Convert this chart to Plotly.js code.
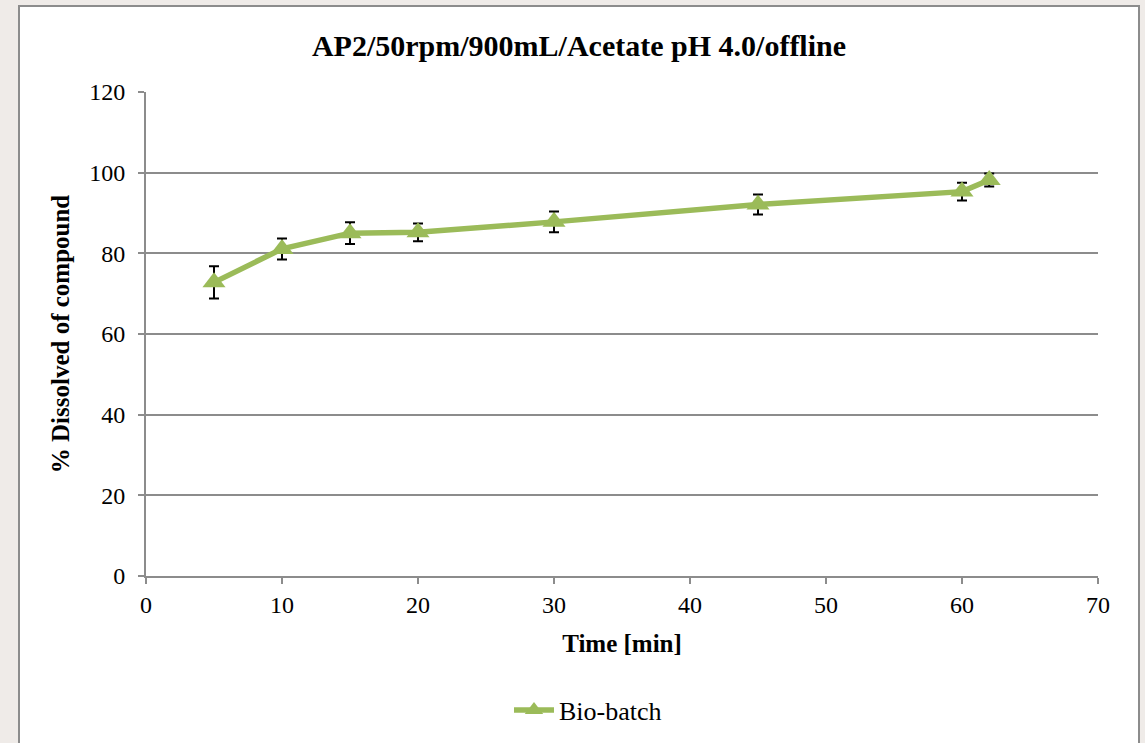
<!DOCTYPE html>
<html>
<head>
<meta charset="utf-8">
<script src="https://cdn.plot.ly/plotly-3.0.1.min.js"></script>
<style>
  html, body { margin: 0; padding: 0; width: 1145px; height: 743px; overflow: hidden; background: #efebe8; }
  #frame { position: absolute; left: 18px; top: 5px; width: 1118px; height: 800px; background: #ffffff; border: 2px solid #8c8c8c; }
  #chart { position: absolute; left: 0; top: 0; width: 1145px; height: 743px; }
</style>
</head>
<body>
<div id="frame"></div>
<div id="chart"></div>
<script>
const timeMin = [5, 10, 15, 20, 30, 45, 60, 62];
const dissolved = [72.8, 81.1, 85.0, 85.2, 87.8, 92.1, 95.3, 98.2];
const errorSD = [4.0, 2.6, 2.7, 2.2, 2.6, 2.5, 2.2, 1.6];
const seriesName = 'Bio-batch';
const xTicks = [0, 10, 20, 30, 40, 50, 60, 70];
const yTicks = [0, 20, 40, 60, 80, 100, 120];

const serif = 'Liberation Serif, Times New Roman, serif';
const trace = {
  x: timeMin, y: dissolved, name: seriesName, type: 'scatter', mode: 'lines+markers',
  line: { color: '#9bbb59', width: 5.5 },
  marker: { symbol: 'triangle-up', size: 20, color: '#9bbb59' },
  error_y: { type: 'data', array: errorSD, visible: true, color: '#000000', thickness: 2, width: 5 }
};
const layout = {
  width: 1145, height: 743,
  paper_bgcolor: 'rgba(0,0,0,0)', plot_bgcolor: 'rgba(0,0,0,0)',
  margin: { l: 146, r: 47, t: 92, b: 167 },
  title: { text: '<b>AP2/50rpm/900mL/Acetate pH 4.0/offline</b>', font: { family: serif, size: 30, color: '#000' }, x: 579 / 1145, xanchor: 'center', xref: 'container', y: 1 - 45 / 743, yanchor: 'middle', yref: 'container' },
  showlegend: true,
  legend: { orientation: 'h', xref: 'container', x: 588 / 1145, xanchor: 'center', yref: 'container', y: 1 - 710 / 743, yanchor: 'middle', font: { family: serif, size: 26, color: '#000' }, itemwidth: 40 },
  xaxis: {
    range: [0, 70], tickvals: xTicks, ticktext: xTicks.map(String),
    showgrid: false, zeroline: false, showline: true, linecolor: '#8c8c8c', linewidth: 2,
    ticks: 'outside', ticklen: 6, tickwidth: 2, tickcolor: '#8c8c8c',
    tickfont: { family: serif, size: 24, color: '#000' },
    title: { text: '<b>Time [min]</b>', font: { family: serif, size: 25, color: '#000' }, standoff: 18 }
  },
  yaxis: {
    range: [0, 120], tickvals: yTicks, ticktext: yTicks.map(String),
    showgrid: true, gridcolor: '#8c8c8c', gridwidth: 2, zeroline: false,
    showline: true, linecolor: '#8c8c8c', linewidth: 2,
    ticks: 'outside', ticklen: 6, tickwidth: 2, tickcolor: '#8c8c8c',
    ticklabelstandoff: 8,
    tickfont: { family: serif, size: 24, color: '#000' },
    title: { text: '<b>% Dissolved of compound</b>', font: { family: serif, size: 25, color: '#000' }, standoff: 12 }
  }
};
Plotly.newPlot('chart', [trace], layout, { displayModeBar: false, staticPlot: true });
</script>
</body>
</html>
